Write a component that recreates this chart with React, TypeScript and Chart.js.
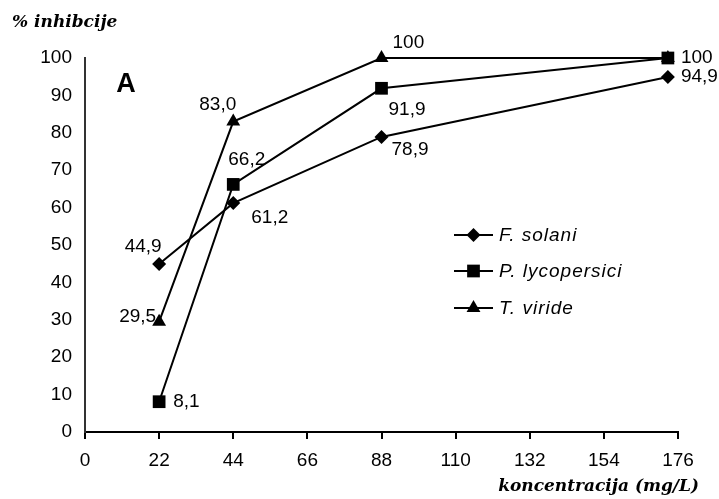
import React, { useEffect, useRef } from 'react';
import { Chart, registerables } from 'chart.js';

Chart.register(...registerables);

// ---- data ----
const concentrations = [22, 44, 88, 173];
const xTickValues = [0, 22, 44, 66, 88, 110, 132, 154, 176];
const fSolani = [44.9, 61.2, 78.9, 94.9];
const pLycopersici = [8.1, 66.2, 91.9, 100];
const tViride = [29.5, 83.0, 100, 100];
const seriesNames = ['F. solani', 'P. lycopersici', 'T. viride'];
const yTitle = '% inhibcije';
const xTitle = 'koncentracija (mg/L)';
const panelLetter = 'A';

// ---- styles ----
const SANS = '"Liberation Sans", Arial, sans-serif';
const SERIF = '"DejaVu Serif", "Liberation Serif", serif';
const pointStyles = ['rectRot', 'rect', 'triangle'];
const pointRadii = [7, 9, 8];
type Off = { dx: number; dy: number; align: CanvasTextAlign } | null;
const labelOffsets: Off[][] = [
  [
    { dx: -16, dy: -17, align: 'center' },
    { dx: 18, dy: 15, align: 'left' },
    { dx: 10, dy: 13, align: 'left' },
    { dx: 13, dy: 0, align: 'left' },
  ],
  [
    { dx: 14, dy: 0, align: 'left' },
    { dx: -5, dy: -25, align: 'left' },
    { dx: 7, dy: 21, align: 'left' },
    { dx: 13, dy: 0, align: 'left' },
  ],
  [
    { dx: -3, dy: -5, align: 'right' },
    { dx: 3, dy: -17, align: 'right' },
    { dx: 11, dy: -15, align: 'left' },
    null,
  ],
];

function fmt(v: number) {
  return v === 100 ? '100' : v.toFixed(1).replace('.', ',');
}

function drawMarker(ctx: CanvasRenderingContext2D, style: string, x: number, y: number, r: number) {
  ctx.beginPath();
  if (style === 'rectRot') {
    ctx.moveTo(x, y - r);
    ctx.lineTo(x + r, y);
    ctx.lineTo(x, y + r);
    ctx.lineTo(x - r, y);
  } else if (style === 'rect') {
    const s = r * Math.SQRT1_2;
    ctx.rect(x - s, y - s, 2 * s, 2 * s);
  } else {
    const a = Math.PI * 2 / 3;
    ctx.moveTo(x, y - r);
    ctx.lineTo(x + Math.sin(a) * r, y - Math.cos(a) * r);
    ctx.lineTo(x + Math.sin(2 * a) * r, y - Math.cos(2 * a) * r);
  }
  ctx.closePath();
  ctx.fill();
}

const decorPlugin = {
  id: 'decor',
  afterDatasetsDraw(chart: any) {
    const ctx: CanvasRenderingContext2D = chart.ctx;
    ctx.save();
    // data labels
    ctx.fillStyle = '#000';
    ctx.font = `19px ${SANS}`;
    ctx.textBaseline = 'middle';
    chart.data.datasets.forEach((ds: any, di: number) => {
      const meta = chart.getDatasetMeta(di);
      meta.data.forEach((pt: any, i: number) => {
        const off = labelOffsets[di][i];
        if (!off) return;
        ctx.textAlign = off.align;
        ctx.fillText(fmt(ds.data[i].y), pt.x + off.dx, pt.y + off.dy);
      });
    });
    // legend
    const lx0 = 454, lx1 = 493, ly = [235, 271, 308];
    ctx.font = `italic 19px ${SANS}`;
    (ctx as any).letterSpacing = '1px';
    ctx.textAlign = 'left';
    chart.data.datasets.forEach((ds: any, di: number) => {
      const y = ly[di];
      ctx.strokeStyle = '#000';
      ctx.lineWidth = 2;
      ctx.beginPath();
      ctx.moveTo(lx0, y);
      ctx.lineTo(lx1, y);
      ctx.stroke();
      drawMarker(ctx, pointStyles[di], (lx0 + lx1) / 2, y, pointRadii[di]);
      ctx.fillText(ds.label, 499, y + 1);
    });
    (ctx as any).letterSpacing = '0px';
    // panel letter
    ctx.font = `bold 27px ${SANS}`;
    ctx.textAlign = 'center';
    ctx.fillText(panelLetter, 126, 85);
    // titles
    ctx.font = `bold italic 17px ${SERIF}`;
    ctx.textAlign = 'left';
    ctx.fillText(yTitle, 12, 23);
    ctx.textAlign = 'right';
    ctx.fillText(xTitle, 699, 487);
    ctx.restore();
  },
};

export default function App() {
  const ref = useRef<HTMLCanvasElement>(null);
  useEffect(() => {
    if (!ref.current) return;
    const series = [fSolani, pLycopersici, tViride];
    const chart = new Chart(ref.current, {
      type: 'line',
      data: {
        datasets: series.map((vals, si) => ({
          label: seriesNames[si],
          data: vals.map((v, i) => ({ x: concentrations[i], y: v })),
          borderColor: '#000',
          backgroundColor: '#000',
          borderWidth: 2,
          pointStyle: pointStyles[si] as any,
          pointRadius: pointRadii[si],
          pointBorderWidth: 0,
          pointBackgroundColor: '#000',
          tension: 0,
          clip: false as any,
        })),
      },
      options: {
        animation: false,
        responsive: false,
        events: [],
        layout: { padding: { left: 0, right: 41, top: 58, bottom: 0 } },
        plugins: { legend: { display: false }, tooltip: { enabled: false } },
        scales: {
          x: {
            type: 'linear',
            min: 0,
            max: 176,
            afterBuildTicks: (s: any) => {
              s.ticks = xTickValues.map((v) => ({ value: v }));
            },
            afterFit: (s: any) => {
              s.height = 67;
            },
            grid: {
              display: true,
              drawOnChartArea: false,
              drawTicks: true,
              tickLength: 7,
              color: '#000',
              lineWidth: 2,
            },
            border: { display: true, color: '#000', width: 2 },
            ticks: {
              color: '#000',
              font: { family: SANS, size: 19 },
              padding: 10,
              maxRotation: 0,
              autoSkip: false,
            },
          },
          y: {
            type: 'linear',
            min: 0,
            max: 100,
            afterFit: (s: any) => {
              s.width = 85;
            },
            grid: { display: false, drawTicks: false },
            border: { display: true, color: '#333', width: 2 },
            ticks: {
              stepSize: 10,
              color: '#000',
              font: { family: SANS, size: 19 },
              padding: 13,
            },
          },
        },
      },
      plugins: [decorPlugin],
    });
    return () => chart.destroy();
  }, []);
  return (
    <div style={{ position: 'fixed', left: 0, top: 0, width: 719, height: 499, background: '#fff' }}>
      <canvas ref={ref} width={719} height={499} style={{ display: 'block' }} />
    </div>
  );
}
